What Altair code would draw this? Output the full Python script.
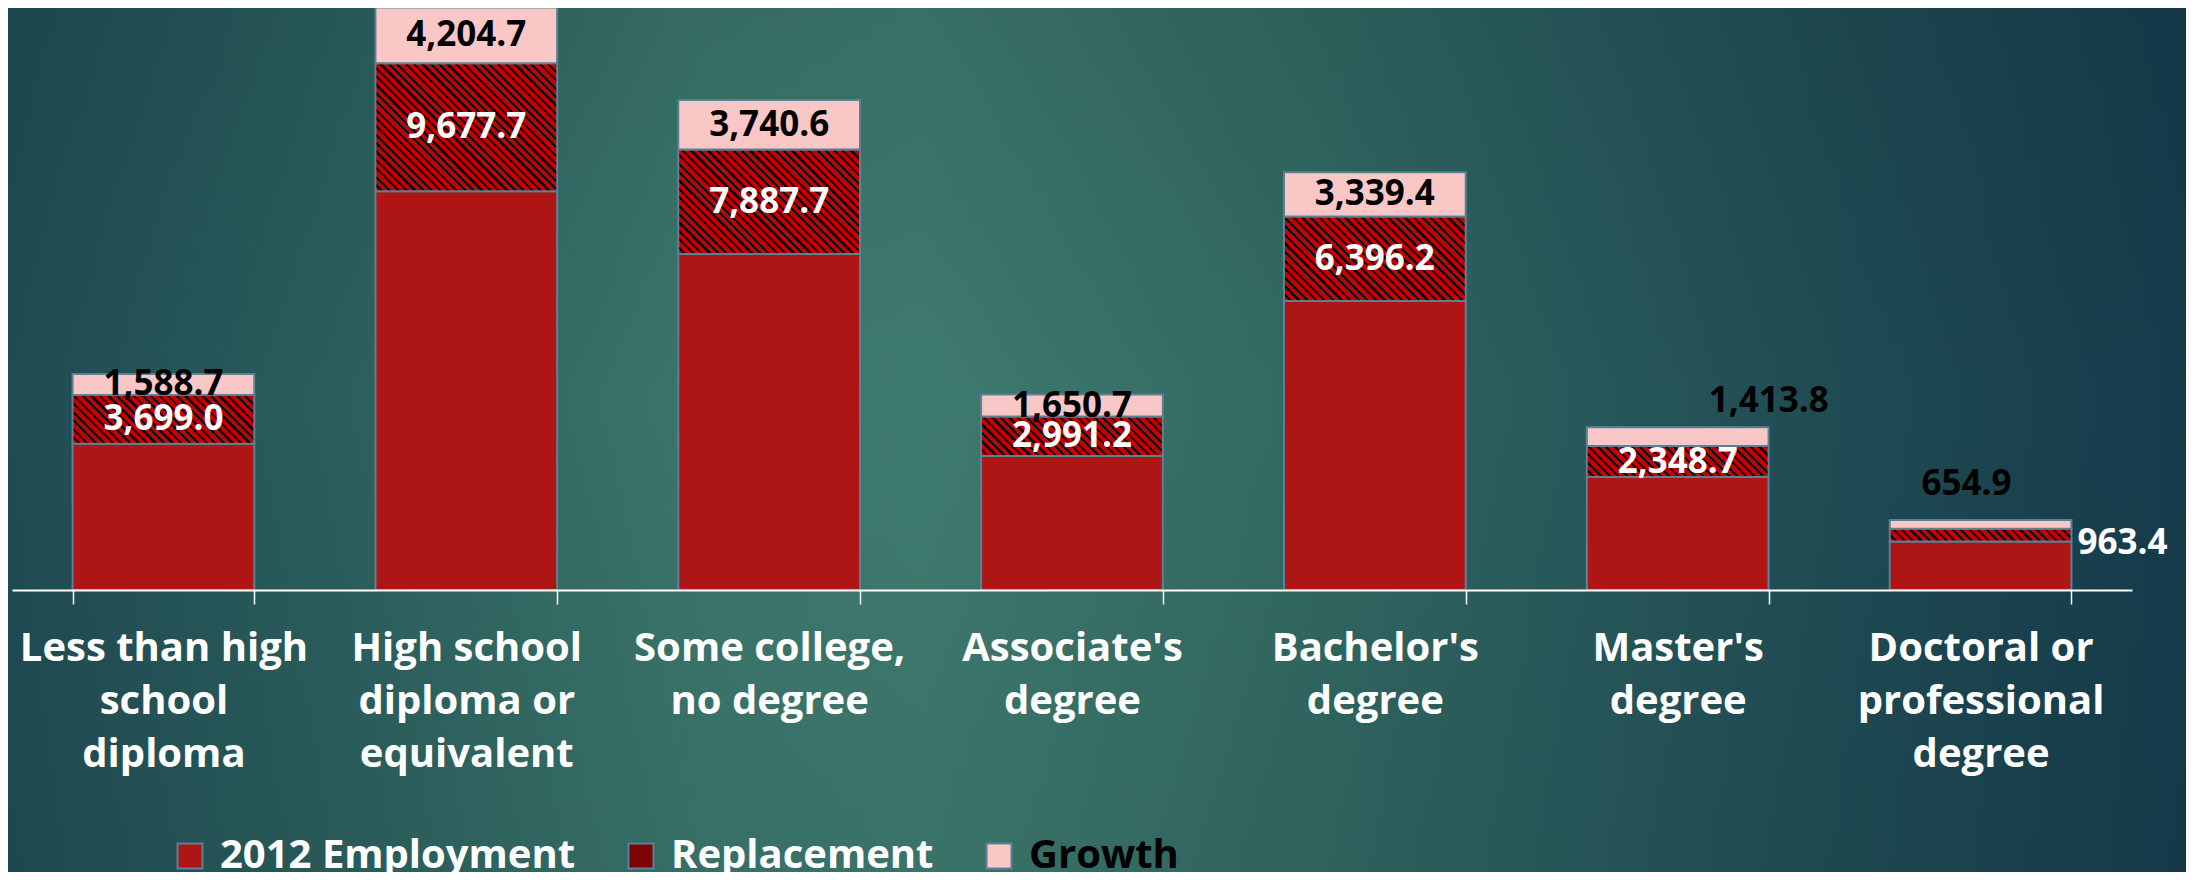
import math
import altair as alt
import pandas as pd

# ---------------- data ----------------
CATEGORIES = [
    "Less than high\nschool\ndiploma",
    "High school\ndiploma or\nequivalent",
    "Some college,\nno degree",
    "Associate's\ndegree",
    "Bachelor's\ndegree",
    "Master's\ndegree",
    "Doctoral or\nprofessional\ndegree",
]
SERIES = ["2012 Employment", "Replacement", "Growth"]
EMPLOYMENT_2012 = [11050, 30150, 25410, 10130, 21850, 8535, 3674]
REPLACEMENT = [3699.0, 9677.7, 7887.7, 2991.2, 6396.2, 2348.7, 963.4]
GROWTH = [1588.7, 4204.7, 3740.6, 1650.7, 3339.4, 1413.8, 654.9]

rows = []
for i, cat in enumerate(CATEGORIES):
    for j, (s, vals) in enumerate(zip(SERIES, [EMPLOYMENT_2012, REPLACEMENT, GROWTH])):
        rows.append({"category": cat, "series": s, "order": j, "value": vals[i]})
df = pd.DataFrame(rows)

# ---------------- styling / layout ----------------
FONT = "Open Sans"
RED = "#ae1515"
HATCH_RED = "#c30000"
HATCH_INK = "#140000"
HATCH_MEAN = "#7d0505"
PINK = "#f9c8c6"
STROKE = "#5c8096"

PLOT_W, PLOT_H = 2120, 582
PAD_L, PAD_T, PAD_R, PAD_B = 4, 0, 54, 282
YMAX = 44000
P_INNER, P_OUTER = 0.4, 0.2
BAR_W = PLOT_W / len(CATEGORIES) * (1 - P_INNER)


def hatch(W, H, period=6.0, ink=0.38):
    """Diagonal '\\' hatching as a striped linear gradient (bbox units)."""
    n = max(1, round((W + H) / (math.sqrt(2) * period)))
    a = (W + H) / (W * W + H * H)
    stops = []
    for k in range(n):
        o0 = round(k / n, 6)
        o1 = round((k + 1 - ink) / n, 6)
        o2 = round((k + 1) / n, 6)
        stops += [
            alt.GradientStop(offset=o0, color=HATCH_RED),
            alt.GradientStop(offset=o1, color=HATCH_RED),
            alt.GradientStop(offset=o1, color=HATCH_INK),
            alt.GradientStop(offset=o2, color=HATCH_INK),
        ]
    return alt.LinearGradient(gradient="linear", stops=stops,
                              x1=0, y1=1, x2=round(a * W, 6), y2=round(1 - a * H, 6))


x_enc = alt.X(
    "category:N",
    sort=CATEGORIES,
    scale=alt.Scale(domain=CATEGORIES, paddingInner=P_INNER, paddingOuter=P_OUTER),
    axis=alt.Axis(
        title=None, labelAngle=0, labelExpr="split(datum.label, '\\n')",
        labelFont=FONT, labelFontSize=40, labelFontWeight="bold", labelColor="white",
        labelLineHeight=53, labelPadding=24, labelLimit=600, labelBaseline="top",
        labelOverlap=False, zindex=2,
        tickBand="extent", tickColor="white", tickWidth=1.5, tickSize=14,
        domainColor="white", domainWidth=2, grid=False,
    ),
)
y_scale = alt.Scale(domain=[0, YMAX], nice=False, zero=True)

color_enc = alt.Color(
    "series:N",
    scale=alt.Scale(domain=SERIES, range=[RED, HATCH_MEAN, PINK]),
    legend=alt.Legend(
        title=None, orient="none", legendX=158, legendY=828, direction="horizontal",
        columns=3, symbolType="square", symbolSize=625, symbolStrokeColor=STROKE,
        symbolStrokeWidth=2, labelFont=FONT, labelFontSize=40, labelFontWeight="bold",
        labelColor={"expr": "datum.label == 'Growth' ? '#000000' : '#ffffff'"},
        labelOffset=10, columnPadding=45, labelLimit=1000, padding=0,
    ),
)

base = alt.Chart(df).transform_stack(
    stack="value", groupby=["category"], as_=["lo", "hi"],
    sort=[alt.SortField("order", order="ascending")],
).transform_calculate(mid="(datum.lo + datum.hi) / 2")

# background panel
bg_h = alt.LinearGradient(
    gradient="linear", x1=0, y1=0, x2=1, y2=0,
    stops=[
        alt.GradientStop(offset=0.0, color="#1f4b53"),
        alt.GradientStop(offset=0.14, color="#2a5d5b"),
        alt.GradientStop(offset=0.32, color="#3b766c"),
        alt.GradientStop(offset=0.42, color="#3e7a6e"),
        alt.GradientStop(offset=0.6, color="#316861"),
        alt.GradientStop(offset=0.8, color="#224f56"),
        alt.GradientStop(offset=1.0, color="#153b4a"),
    ],
)
bg_v = alt.LinearGradient(
    gradient="linear", x1=0, y1=0, x2=0, y2=1,
    stops=[
        alt.GradientStop(offset=0.0, color="rgba(10,30,40,0.12)"),
        alt.GradientStop(offset=0.45, color="rgba(10,30,40,0)"),
        alt.GradientStop(offset=1.0, color="rgba(10,30,40,0.08)"),
    ],
)
bg_layers = [
    alt.Chart(alt.Data(values=[{"bg": 1}])).mark_rect(fill=g).encode(
        x=alt.value(-PAD_L), x2=alt.value(PLOT_W + PAD_R),
        y=alt.value(-PAD_T), y2=alt.value(PLOT_H + PAD_B),
    )
    for g in (bg_h, bg_v)
]


def series_bars(s):
    return base.transform_filter(alt.FieldEqualPredicate(field="series", equal=s)).mark_bar(
        stroke=STROKE, strokeWidth=2
    ).encode(x=x_enc, y=alt.Y("lo:Q", scale=y_scale, axis=None), y2="hi:Q", color=color_enc)


emp_bars = series_bars(SERIES[0])
growth_bars = series_bars(SERIES[2])

repl_bars = []
for i, cat in enumerate(CATEGORIES):
    h = REPLACEMENT[i] / YMAX * PLOT_H
    repl_bars.append(
        base.transform_filter(alt.FieldEqualPredicate(field="series", equal=SERIES[1]))
        .transform_filter(alt.FieldEqualPredicate(field="category", equal=cat))
        .mark_bar(fill=hatch(BAR_W, h), stroke=STROKE, strokeWidth=2)
        .encode(x=x_enc, y=alt.Y("lo:Q", scale=y_scale, axis=None), y2="hi:Q")
    )


def labels(s, cats, color, dx=0, dy=0, align="center"):
    return (
        base.transform_filter(alt.FieldEqualPredicate(field="series", equal=s))
        .transform_filter(alt.FieldOneOfPredicate(field="category", oneOf=cats))
        .mark_text(font=FONT, fontSize=35, fontWeight="bold", color=color,
                   dx=dx, dy=dy, align=align, baseline="middle")
        .encode(x=x_enc, y=alt.Y("mid:Q", scale=y_scale, axis=None),
                text=alt.Text("value:Q", format=",.1f"))
    )


text_layers = [
    labels(SERIES[1], CATEGORIES[:6], "white"),
    labels(SERIES[1], CATEGORIES[6:], "white", dx=97, dy=8, align="left"),
    labels(SERIES[2], CATEGORIES[:5], "black"),
    labels(SERIES[2], CATEGORIES[5:6], "black", dx=91, dy=-36),
    labels(SERIES[2], CATEGORIES[6:], "black", dx=-14, dy=-40),
]

chart = alt.layer(*bg_layers, emp_bars, *repl_bars, growth_bars, *text_layers).properties(
    width=PLOT_W, height=PLOT_H,
    autosize=alt.AutoSizeParams(type="none"),
    padding={"left": PAD_L, "top": PAD_T, "right": PAD_R, "bottom": PAD_B},
    background="#1f4b53",
).configure_view(stroke="transparent")

chart.save("out.html", embed_options={"renderer": "svg", "actions": False})
